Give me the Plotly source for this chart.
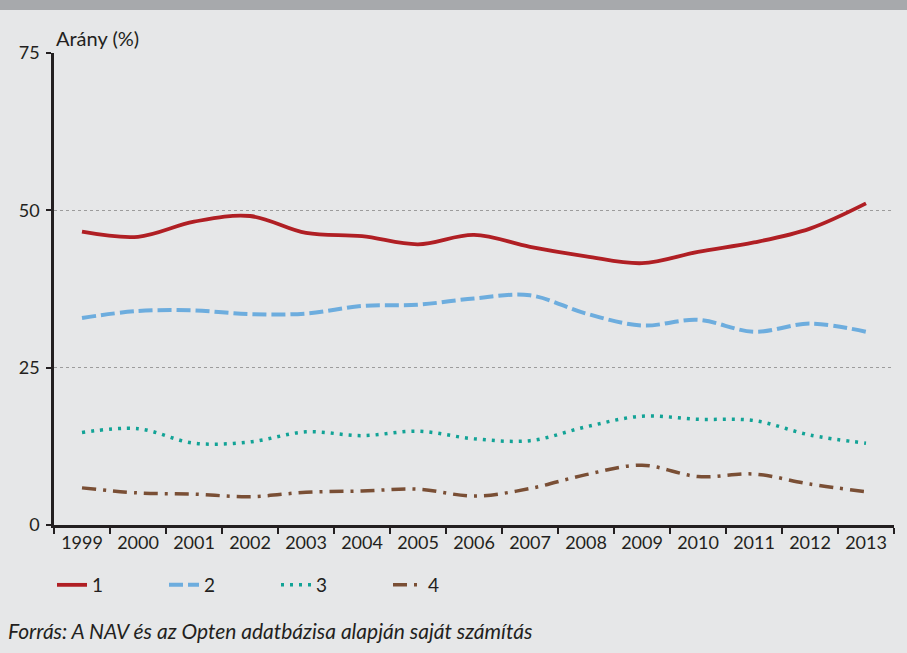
import plotly.graph_objects as go

years = [str(y) for y in range(1999, 2014)]
s1 = [46.6, 45.8, 48.2, 49.1, 46.4, 45.9, 44.6, 46.1, 44.2, 42.7, 41.6, 43.4, 44.9, 47.1, 51.1]
s2 = [32.9, 34.0, 34.1, 33.5, 33.6, 34.8, 35.0, 36.0, 36.5, 33.6, 31.7, 32.6, 30.7, 32.0, 30.7]
s3 = [14.7, 15.3, 13.0, 13.2, 14.8, 14.2, 14.9, 13.7, 13.4, 15.6, 17.3, 16.8, 16.6, 14.3, 13.0]
s4 = [5.9, 5.1, 4.9, 4.5, 5.2, 5.4, 5.7, 4.6, 5.8, 8.0, 9.5, 7.7, 8.1, 6.5, 5.3]
names = ["1", "2", "3", "4"]
y_ticks = [0, 25, 50, 75]
y_title = "Arány (%)"
source = "Forrás: A NAV és az Opten adatbázisa alapján saját számítás"

FONT = "Lato"
TXT = "#231F20"
BG = "#E6E7E8"

styles = [
    dict(color="#B01F24", width=3.8, dash="solid"),
    dict(color="#6DADDE", width=4, dash="14px,5px"),
    dict(color="#12A396", width=3.5, dash="3px,6px"),
    dict(color="#7A4F35", width=3.5, dash="14px,7px,3px,7px"),
]

fig = go.Figure()
for name, vals, st in zip(names, [s1, s2, s3, s4], styles):
    fig.add_trace(go.Scatter(
        x=years, y=vals, name=name, mode="lines",
        line=dict(color=st["color"], width=st["width"], dash=st["dash"],
                  shape="spline", smoothing=1.0),
    ))

L, R, T, B = 54, 13, 53, 128
W, H = 907, 653
pw, ph = W - L - R, H - T - B

def px_x(p):
    return (p - L) / pw

def px_y(p):
    return (H - B - p) / ph

fig.update_layout(
    width=W, height=H,
    margin=dict(l=L, r=R, t=T, b=B, pad=0),
    paper_bgcolor=BG, plot_bgcolor=BG,
    font=dict(family=FONT, size=18, color=TXT),
    showlegend=True,
    legend=dict(
        orientation="h", x=px_x(52), y=px_y(585), xanchor="left", yanchor="middle",
        bgcolor="rgba(0,0,0,0)", font=dict(size=19, color=TXT),
        entrywidth=67, entrywidthmode="pixels", itemwidth=30,
        traceorder="normal",
    ),
    xaxis=dict(
        type="category", range=[-0.5, 14.5], tickson="boundaries",
        ticks="outside", ticklen=6, tickwidth=2, tickcolor=TXT,
        showline=True, linewidth=2.5, linecolor=TXT, showgrid=False,
        tickfont=dict(size=18, color=TXT), zeroline=False,
    ),
    yaxis=dict(
        range=[0, 75], tickvals=y_ticks, ticktext=[str(v) for v in y_ticks],
        ticks="outside", ticklen=5, tickwidth=2, tickcolor=TXT,
        showline=True, linewidth=2.5, linecolor=TXT,
        showgrid=True, gridcolor="#9C9C9C", gridwidth=1, griddash="dot",
        zeroline=False, tickfont=dict(size=18, color=TXT),
        ticklabelstandoff=3,
    ),
    shapes=[dict(
        type="rect", xref="paper", yref="paper",
        x0=px_x(-2), x1=px_x(W + 2), y0=px_y(10), y1=px_y(-2),
        fillcolor="#A7A9AC", line=dict(width=0), layer="above",
    )],
    annotations=[
        dict(text=y_title, xref="paper", yref="paper", x=px_x(54), y=px_y(38),
             xanchor="left", yanchor="middle", showarrow=False,
             font=dict(size=20, color=TXT, family=FONT)),
        dict(text="<i>" + source + "</i>", xref="paper", yref="paper",
             x=px_x(6), y=px_y(630), xanchor="left", yanchor="middle",
             showarrow=False, font=dict(size=21, color=TXT, family=FONT)),
    ],
)

fig.write_html("out.html", config={"displayModeBar": False})

with open("out.html", "r", encoding="utf-8") as f:
    html = f.read()
html = html.replace("<head>", "<head><style>html,body{margin:0;padding:0;background:#E6E7E8;}</style>", 1)
with open("out.html", "w", encoding="utf-8") as f:
    f.write(html)
